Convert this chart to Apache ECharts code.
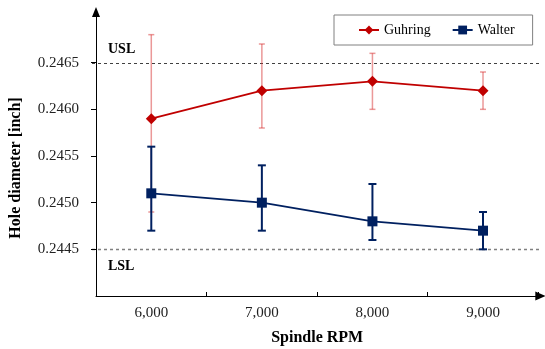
<!DOCTYPE html>
<html>
<head>
<meta charset="utf-8">
<script src="https://cdn.jsdelivr.net/npm/echarts@6/dist/echarts.min.js"></script>
<style>html,body{margin:0;padding:0;background:#fff}#c{width:545px;height:349px}</style>
</head>
<body>
<div id="c"></div>
<script>
var categories = ['6,000', '7,000', '8,000', '9,000'];
var guhring = [0.2459, 0.2462, 0.2463, 0.2462];
var guhringHigh = [0.2468, 0.2467, 0.2466, 0.2464];
var guhringLow = [0.2449, 0.2458, 0.2460, 0.2460];
var walter = [0.2451, 0.2450, 0.2448, 0.2447];
var walterHigh = [0.2456, 0.2454, 0.2452, 0.2449];
var walterLow = [0.2447, 0.2447, 0.2446, 0.2445];
var yTicks = [0.2445, 0.2450, 0.2455, 0.2460, 0.2465];
var limits = [0.2465, 0.2445];
var limitNames = ['USL', 'LSL'];

var FONT = "'Liberation Serif', 'Times New Roman', serif";
var RED = '#c00000', NAVY = '#002060';

function errBar(color, width, cap) {
  return function (params, api) {
    var x = api.value(0);
    var hi = api.coord([x, api.value(1)]);
    var lo = api.coord([x, api.value(2)]);
    var st = {stroke: color, lineWidth: width};
    return {type: 'group', children: [
      {type: 'line', shape: {x1: hi[0], y1: hi[1], x2: lo[0], y2: lo[1]}, style: st},
      {type: 'line', shape: {x1: hi[0] - cap, y1: hi[1], x2: hi[0] + cap, y2: hi[1]}, style: st},
      {type: 'line', shape: {x1: lo[0] - cap, y1: lo[1], x2: lo[0] + cap, y2: lo[1]}, style: st}
    ]};
  };
}

function limitLine(params, api) {
  var cs = params.coordSys;
  var y = Math.round(api.coord([0, api.value(1)])[1]) + 0.5;
  var isUpper = params.dataIndex === 0;
  return {type: 'group', children: [
    {type: 'line', shape: {x1: cs.x - 4, y1: y, x2: cs.x + cs.width + 2, y2: y},
      style: {stroke: isUpper ? '#404040' : '#808080', lineWidth: isUpper ? 1 : 1.5, lineDash: [3, 3]}},
    {type: 'text', x: cs.x + 12, y: isUpper ? y - 14 : y + 17,
      style: {text: limitNames[params.dataIndex], fontFamily: FONT, fontSize: 14, fontWeight: 'bold',
        fill: '#000', verticalAlign: 'middle', align: 'left'}}
  ]};
}

var chart = echarts.init(document.getElementById('c'), null, {renderer: 'canvas'});
chart.setOption({
  animation: false,
  backgroundColor: '#fff',
  textStyle: {fontFamily: FONT},
  grid: {left: 96, right: 6.7, top: 16, bottom: 53, containLabel: false, outerBoundsMode: 'none'},
  legend: {
    data: ['Guhring', 'Walter'],
    left: 334, top: 15,
    padding: [8, 18, 8, 24],
    itemGap: 21,
    itemWidth: 20, itemHeight: 11,
    borderColor: '#808080', borderWidth: 1,
    textStyle: {fontFamily: FONT, fontSize: 14, color: '#000'}
  },
  xAxis: {
    type: 'category',
    data: categories,
    boundaryGap: true,
    name: 'Spindle RPM',
    nameLocation: 'middle',
    nameGap: 34,
    nameTextStyle: {fontFamily: FONT, fontSize: 16, fontWeight: 'bold', color: '#000'},
    axisLine: {lineStyle: {color: '#000', width: 1}, symbol: ['none', 'triangle'], symbolSize: [9, 10], symbolOffset: [0, 2]},
    axisTick: {show: true, inside: true, length: 4, lineStyle: {color: '#000'}},
    axisLabel: {fontFamily: FONT, fontSize: 15, color: '#222', margin: 10},
    splitLine: {show: false}
  },
  yAxis: {
    type: 'value',
    min: 0.2440, max: 0.2470, interval: 0.0005,
    name: 'Hole diameter [inch]',
    nameLocation: 'middle',
    nameGap: 72,
    nameTextStyle: {fontFamily: FONT, fontSize: 16, fontWeight: 'bold', color: '#000', padding: [0, 24, 0, 0]},
    axisLine: {show: true, lineStyle: {color: '#000', width: 1}, symbol: ['none', 'triangle'], symbolSize: [8, 10], symbolOffset: [0, 4]},
    axisTick: {show: true, inside: false, length: 5, customValues: yTicks, lineStyle: {color: '#000'}},
    axisLabel: {fontFamily: FONT, fontSize: 15, color: '#222', margin: 17, customValues: yTicks,
      formatter: function (v) { return v.toFixed(4); }},
    splitLine: {show: false}
  },
  series: [
    {
      type: 'custom', name: 'limits', silent: true, z: 0,
      renderItem: limitLine,
      encode: {x: 0, y: 1},
      data: limits.map(function (v, i) { return [0, v]; })
    },
    {
      type: 'custom', name: 'GuhringErr', silent: true, z: 1,
      renderItem: errBar('rgba(215,50,50,0.5)', 1.5, 3),
      encode: {x: 0, y: [1, 2]},
      data: categories.map(function (c, i) { return [i, guhringHigh[i], guhringLow[i]]; })
    },
    {
      type: 'custom', name: 'WalterErr', silent: true, z: 2,
      renderItem: errBar(NAVY, 2, 4),
      encode: {x: 0, y: [1, 2]},
      data: categories.map(function (c, i) { return [i, walterHigh[i], walterLow[i]]; })
    },
    {
      type: 'line', name: 'Walter', z: 3,
      data: walter,
      symbol: 'rect', symbolSize: 10,
      itemStyle: {color: NAVY},
      lineStyle: {color: NAVY, width: 1.8}
    },
    {
      type: 'line', name: 'Guhring', z: 4,
      data: guhring,
      symbol: 'diamond', symbolSize: 11,
      itemStyle: {color: RED},
      lineStyle: {color: RED, width: 1.8}
    }
  ]
});
</script>
</body>
</html>
